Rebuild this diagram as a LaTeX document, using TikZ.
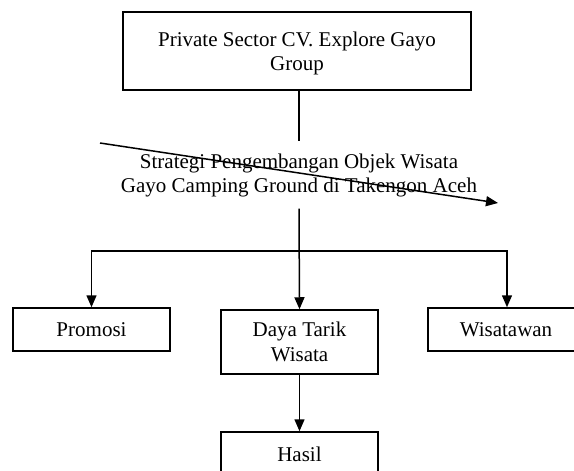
\documentclass[tikz,border=0pt]{standalone}
\usepackage{fontspec}
\setmainfont{Liberation Serif}
\usetikzlibrary{arrows.meta}
\begin{document}
\begin{tikzpicture}[x=1pt,y=-1pt,
  box/.style={draw,line width=1.5pt,inner sep=0pt,align=center,font=\fontsize{21}{25}\selectfont},
  plain/.style={inner sep=0pt,align=center,font=\fontsize{21}{24}\selectfont},
  conn/.style={line width=1.5pt},
  arr/.style={line width=1.5pt,-{Triangle[length=12pt,width=10pt]}}]
\clip (0,0) rectangle (574,471);
\node[box,minimum width=348pt,minimum height=78pt] (top) at (297,51) {};
\node[plain] (toptext) at (297,53.5) {Private Sector CV. Explore Gayo\\Group};
\node[plain,minimum height=67pt] (mid) at (299,175) {Strategi Pengembangan Objek Wisata\\Gayo Camping Ground di Takengon Aceh};
\node[box,minimum width=157pt,minimum height=43pt] (promosi) at (91.5,329.5) {Promosi};
\node[box,minimum width=157pt,minimum height=64pt] (daya) at (299.5,342) {Daya Tarik\\Wisata};
\node[box,minimum width=156pt,minimum height=43pt] (wis) at (506,329.5) {Wisatawan};
\node[box,minimum width=157pt,minimum height=44pt] (hasil) at (299.5,454) {Hasil};
\coordinate (jm) at (299.5,251);
\coordinate (d1) at (100,143);
\coordinate (d2) at (498,203);
\draw[conn] (top.south -| mid) -- (mid.north);
\draw[arr] (mid.south) -- (daya.north);
\draw[arr] (jm) -| (promosi.north);
\draw[arr] (jm) -| ([xshift=1pt]wis.north);
\draw[arr] (daya.south) -- (hasil.north);
\draw[arr] (d1) -- (d2);
\end{tikzpicture}
\end{document}
